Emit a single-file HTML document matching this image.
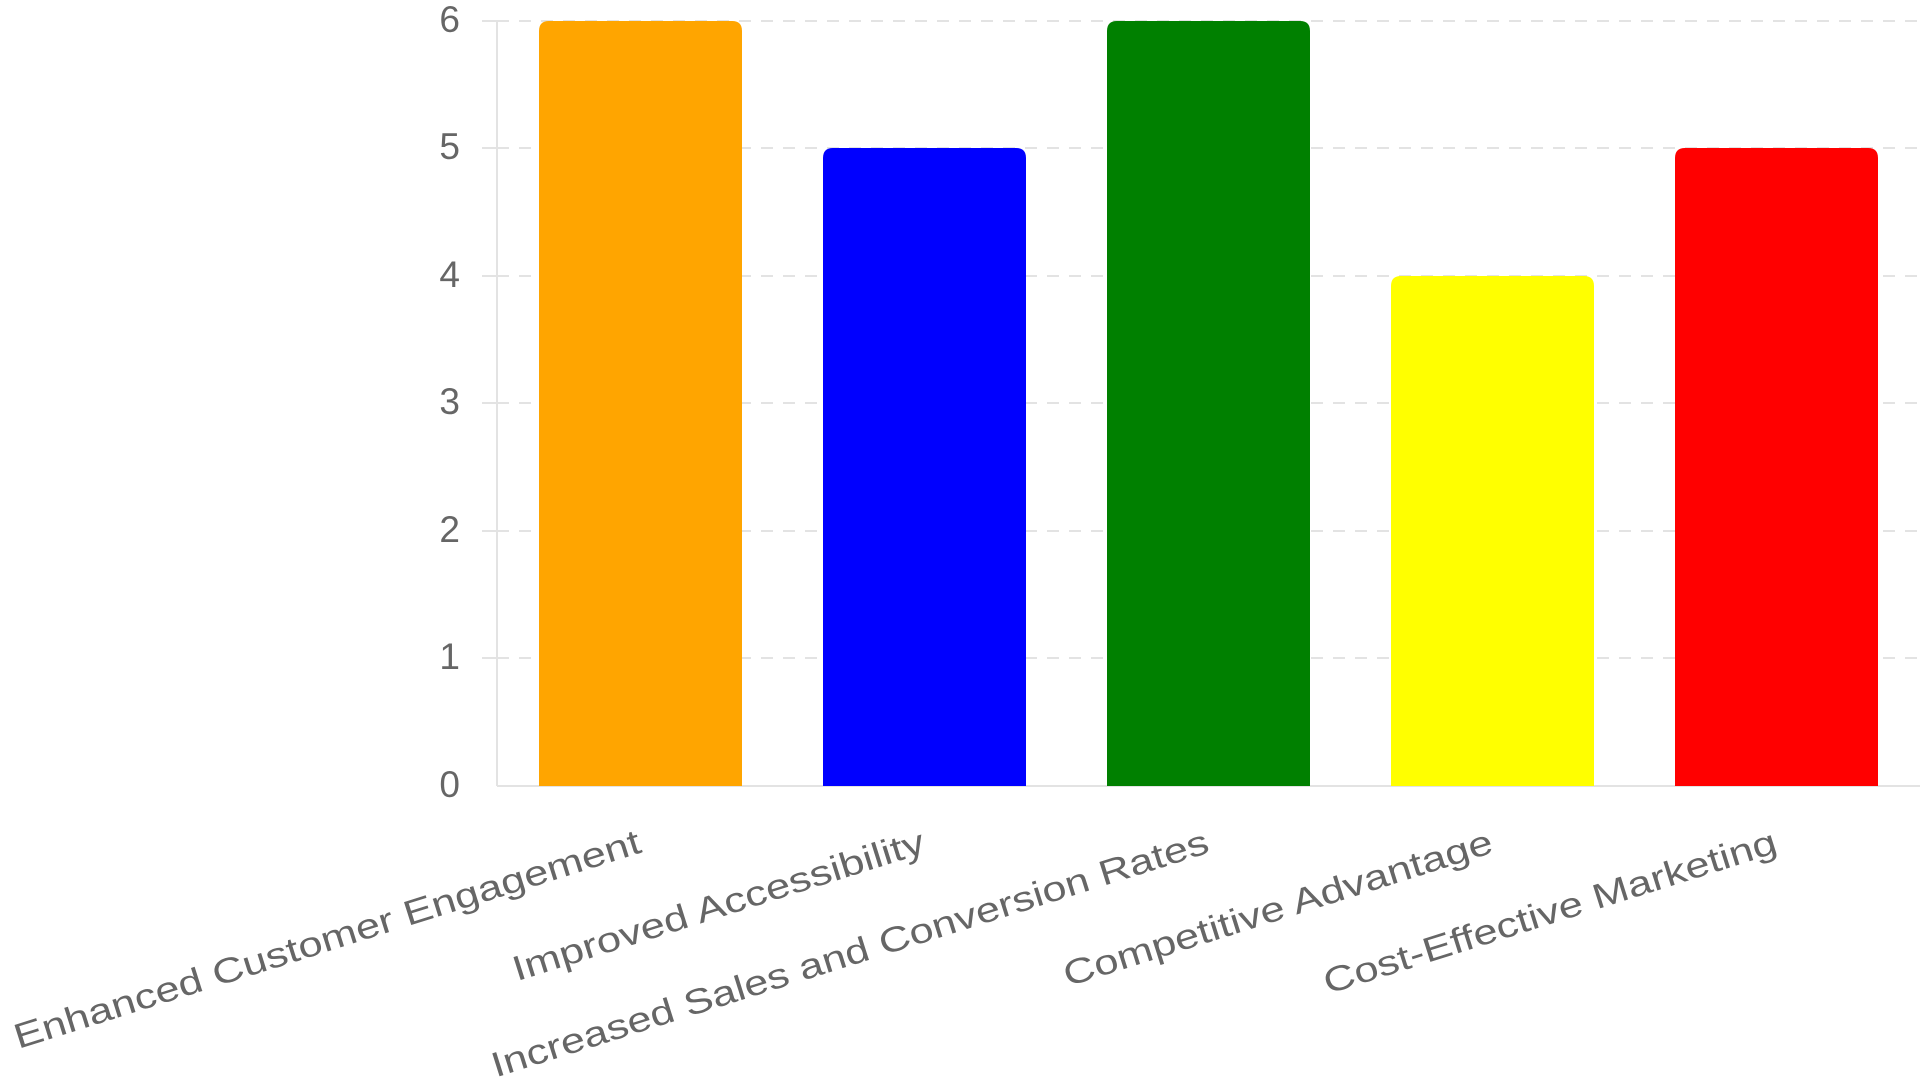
<!DOCTYPE html>
<html><head><meta charset="utf-8"><style>
html,body{margin:0;padding:0;background:#fff;}
svg{display:block;}
text{font-family:"Liberation Sans",Arial,sans-serif;fill:#666;}
</style></head><body>
<svg width="1920" height="1080" viewBox="0 0 1920 1080">
<g stroke="#e3e3e3" stroke-width="2">
<line x1="497" y1="20" x2="497" y2="786"/>
<line x1="497" y1="786" x2="1920" y2="786"/>
<line x1="482" y1="21" x2="497" y2="21"/>
<line x1="482" y1="148" x2="497" y2="148"/>
<line x1="482" y1="276" x2="497" y2="276"/>
<line x1="482" y1="403" x2="497" y2="403"/>
<line x1="482" y1="531" x2="497" y2="531"/>
<line x1="482" y1="658" x2="497" y2="658"/>
<g stroke-dasharray="12,10">
<line x1="497" y1="21" x2="1920" y2="21"/>
<line x1="497" y1="148" x2="1920" y2="148"/>
<line x1="497" y1="276" x2="1920" y2="276"/>
<line x1="497" y1="403" x2="1920" y2="403"/>
<line x1="497" y1="531" x2="1920" y2="531"/>
<line x1="497" y1="658" x2="1920" y2="658"/>
</g></g>
<g font-size="37" text-anchor="end">
<text x="460" y="32">6</text>
<text x="460" y="159">5</text>
<text x="460" y="287">4</text>
<text x="460" y="414">3</text>
<text x="460" y="542">2</text>
<text x="460" y="669">1</text>
<text x="460" y="797">0</text>
</g>
<path d="M539 786 V31 Q539 21 549 21 H732 Q742 21 742 31 V786Z" fill="#ffa500"/>
<path d="M823 786 V158 Q823 148 833 148 H1016 Q1026 148 1026 158 V786Z" fill="#0000ff"/>
<path d="M1107 786 V31 Q1107 21 1117 21 H1300 Q1310 21 1310 31 V786Z" fill="#008000"/>
<path d="M1391 786 V286 Q1391 276 1401 276 H1584 Q1594 276 1594 286 V786Z" fill="#ffff00"/>
<path d="M1675 786 V158 Q1675 148 1685 148 H1868 Q1878 148 1878 158 V786Z" fill="#ff0000"/>
<g font-size="35" text-anchor="end">
<text transform="translate(643,852) rotate(-17.5)" textLength="655" lengthAdjust="spacingAndGlyphs">Enhanced Customer Engagement</text>
<text transform="translate(927,852) rotate(-17.5)" textLength="430" lengthAdjust="spacingAndGlyphs">Improved Accessibility</text>
<text transform="translate(1211,852) rotate(-17.5)" textLength="750" lengthAdjust="spacingAndGlyphs">Increased Sales and Conversion Rates</text>
<text transform="translate(1495,852) rotate(-17.5)" textLength="448" lengthAdjust="spacingAndGlyphs">Competitive Advantage</text>
<text transform="translate(1779,852) rotate(-17.5)" textLength="473" lengthAdjust="spacingAndGlyphs">Cost-Effective Marketing</text>
</g>
</svg>
</body></html>
